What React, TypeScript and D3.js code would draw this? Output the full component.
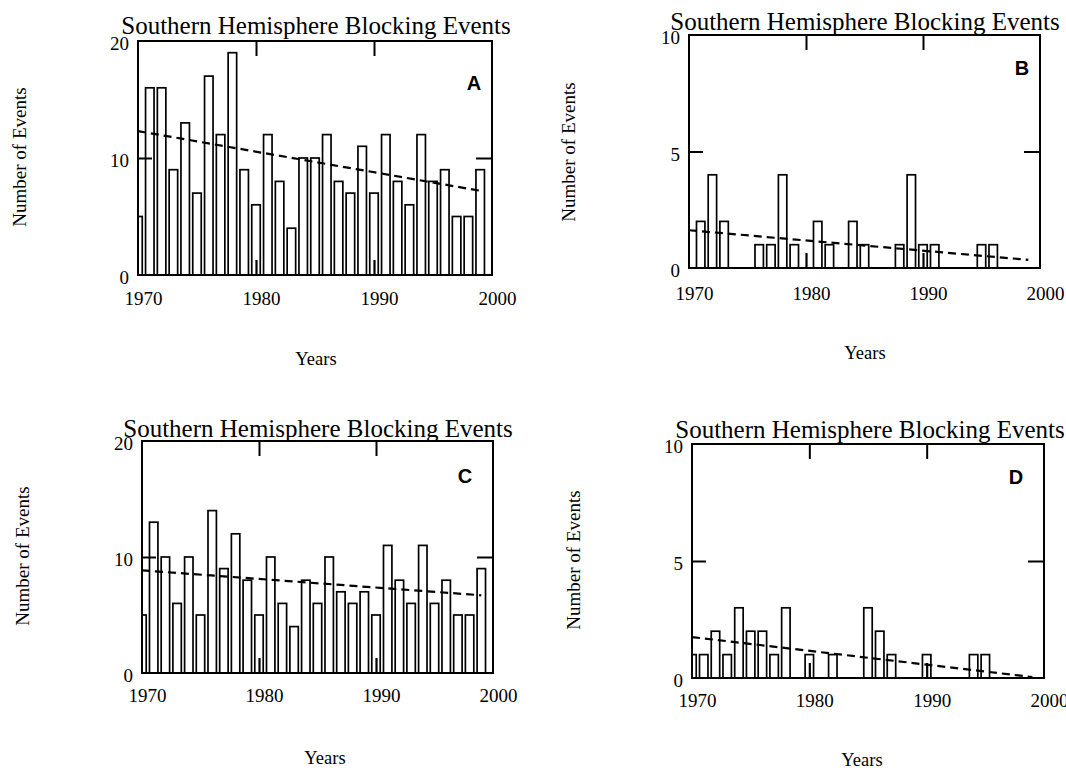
import React, { useEffect, useRef } from 'react';
import * as d3 from 'd3';

// one bar per year, 1970 to 1999
const years = [
  1970, 1971, 1972, 1973, 1974, 1975, 1976, 1977, 1978, 1979,
  1980, 1981, 1982, 1983, 1984, 1985, 1986, 1987, 1988, 1989,
  1990, 1991, 1992, 1993, 1994, 1995, 1996, 1997, 1998, 1999,
];

const countsA = [5, 16, 16, 9, 13, 7, 17, 12, 19, 9, 6, 12, 8, 4, 10, 10, 12, 8, 7, 11, 7, 12, 8, 6, 12, 8, 9, 5, 5, 9];
const countsB = [0, 2, 4, 2, 0, 0, 1, 1, 4, 1, 0, 2, 1, 0, 2, 1, 0, 0, 1, 4, 1, 1, 0, 0, 0, 1, 1, 0, 0, 0];
const countsC = [5, 13, 10, 6, 10, 5, 14, 9, 12, 8, 5, 10, 6, 4, 8, 6, 10, 7, 6, 7, 5, 11, 8, 6, 11, 6, 8, 5, 5, 9];
const countsD = [1, 1, 2, 1, 3, 2, 2, 1, 3, 0, 1, 0, 1, 0, 0, 3, 2, 1, 0, 0, 1, 0, 0, 0, 1, 1, 0, 0, 0, 0];

// linear trend, value at the first and the last year
const trendYears = [1970, 1999];
const trendA = [12.3, 7.2];
const trendB = [1.62, 0.35];
const trendC = [8.85, 6.7];
const trendD = [1.75, 0.04];

const yTicks20 = [0, 10, 20];
const yTicks10 = [0, 5, 10];
const xTicks = [1970, 1980, 1990, 2000];
const innerXTicks = [1980, 1990];

const titleText = 'Southern Hemisphere Blocking Events';
const yAxisText = 'Number of Events';
const xAxisText = 'Years';

const SERIF = '"Liberation Serif", "Times New Roman", Times, serif';
const SANS = '"Liberation Sans", Arial, Helvetica, sans-serif';

const panels = [
  {
    letter: 'A', counts: countsA, trend: trendA, yTicks: yTicks20,
    left: 138, right: 492, top: 41, bottom: 275,
    titleX: 316, titleY: 34, letterX: 474, letterY: 90,
    yLabelX: 19, yLabelY: 157, xTitleX: 316, xTitleY: 365, yearY: 305,
  },
  {
    letter: 'B', counts: countsB, trend: trendB, yTicks: yTicks10,
    left: 689, right: 1040, top: 35, bottom: 268,
    titleX: 865, titleY: 30, letterX: 1022, letterY: 75,
    yLabelX: 568, yLabelY: 152, xTitleX: 865, xTitleY: 359, yearY: 300,
  },
  {
    letter: 'C', counts: countsC, trend: trendC, yTicks: yTicks20,
    left: 142, right: 493, top: 441, bottom: 673,
    titleX: 318, titleY: 437, letterX: 465, letterY: 483,
    yLabelX: 22, yLabelY: 556, xTitleX: 325, xTitleY: 764, yearY: 702,
  },
  {
    letter: 'D', counts: countsD, trend: trendD, yTicks: yTicks10,
    left: 692, right: 1044, top: 444, bottom: 678,
    titleX: 870, titleY: 438, letterX: 1016, letterY: 484,
    yLabelX: 573, yLabelY: 560, xTitleX: 862, xTitleY: 766, yearY: 707,
  },
];

const App = () => {
  const ref = useRef<SVGSVGElement>(null);

  useEffect(() => {
    draw();
  });

  const draw = () => {
    const svg = d3.select(ref.current);
    svg.selectAll('*').remove();

    panels.forEach((p) => {
      const g = svg.append('g');
      const yMax = p.yTicks[p.yTicks.length - 1];

      const x = d3.scaleLinear().domain([1970, 2000]).range([p.left, p.right]);
      const y = d3.scaleLinear().domain([0, yMax]).range([p.bottom, p.top]);
      const bw = (x(1971) - x(1970)) * 0.72;

      // clip so the 1970 bar is cut at the frame
      const clipId = `clip-${p.letter}`;
      g.append('clipPath')
        .attr('id', clipId)
        .append('rect')
        .attr('x', p.left)
        .attr('y', p.top)
        .attr('width', p.right - p.left)
        .attr('height', p.bottom - p.top);

      const data = years.map((yr, i) => ({ yr, v: p.counts[i] })).filter((d) => d.v > 0);

      g.append('g')
        .attr('clip-path', `url(#${clipId})`)
        .selectAll('rect')
        .data(data)
        .join('rect')
        .attr('x', (d) => x(d.yr) - bw / 2)
        .attr('y', (d) => y(d.v))
        .attr('width', bw)
        .attr('height', (d) => p.bottom - y(d.v))
        .attr('fill', 'none')
        .attr('stroke', '#000')
        .attr('stroke-width', 1.7);

      // dashed trend line
      const line = d3
        .line<number>()
        .x((d, i) => x(trendYears[i]))
        .y((d) => y(d));
      g.append('path')
        .attr('d', line(p.trend))
        .attr('fill', 'none')
        .attr('stroke', '#000')
        .attr('stroke-width', 2.2)
        .attr('stroke-dasharray', '8,5');

      // frame
      g.append('rect')
        .attr('x', p.left)
        .attr('y', p.top)
        .attr('width', p.right - p.left)
        .attr('height', p.bottom - p.top)
        .attr('fill', 'none')
        .attr('stroke', '#000')
        .attr('stroke-width', 2);

      // left axis: labels and inward ticks
      const midY = p.yTicks.filter((t) => t > 0 && t < yMax);
      const left = g
        .append('g')
        .attr('transform', `translate(${p.left},0)`)
        .call(d3.axisLeft(y).tickValues(p.yTicks).tickSize(0).tickPadding(9));
      left.select('.domain').remove();
      left.selectAll('text')
        .attr('font-family', SERIF)
        .attr('font-size', 19)
        .attr('fill', '#000')
        .attr('dy', '0.45em');

      g.append('g')
        .attr('transform', `translate(${p.left},0)`)
        .call(d3.axisLeft(y).tickValues(midY).tickSize(-14).tickFormat(() => ''))
        .call((a) => a.select('.domain').remove())
        .selectAll('line')
        .attr('stroke-width', 2);

      g.append('g')
        .attr('transform', `translate(${p.right},0)`)
        .call(d3.axisRight(y).tickValues(midY).tickSize(-16).tickFormat(() => ''))
        .call((a) => a.select('.domain').remove())
        .selectAll('line')
        .attr('stroke-width', 2);

      // bottom axis: year labels and inward ticks
      const bottom = g
        .append('g')
        .attr('transform', `translate(0,${p.bottom})`)
        .call(d3.axisBottom(x).tickValues(xTicks).tickSize(0).tickFormat(d3.format('d')));
      bottom.select('.domain').remove();
      bottom.selectAll('text')
        .attr('font-family', SERIF)
        .attr('font-size', 19)
        .attr('fill', '#000')
        .attr('dy', null)
        .attr('y', p.yearY - p.bottom)
        .attr('dx', 5);

      g.append('g')
        .attr('transform', `translate(0,${p.bottom})`)
        .call(d3.axisBottom(x).tickValues(innerXTicks).tickSize(-15).tickFormat(() => ''))
        .call((a) => a.select('.domain').remove())
        .selectAll('line')
        .attr('stroke-width', 2.2);

      g.append('g')
        .attr('transform', `translate(0,${p.top})`)
        .call(d3.axisTop(x).tickValues(innerXTicks).tickSize(-15).tickFormat(() => ''))
        .call((a) => a.select('.domain').remove())
        .selectAll('line')
        .attr('stroke-width', 2);

      // texts
      g.append('text')
        .attr('x', p.titleX)
        .attr('y', p.titleY)
        .attr('text-anchor', 'middle')
        .attr('font-family', SERIF)
        .attr('font-size', 25)
        .text(titleText);

      g.append('text')
        .attr('x', p.letterX)
        .attr('y', p.letterY)
        .attr('text-anchor', 'middle')
        .attr('font-family', SANS)
        .attr('font-weight', 'bold')
        .attr('font-size', 20)
        .text(p.letter);

      g.append('text')
        .attr('transform', `translate(${p.yLabelX},${p.yLabelY}) rotate(-90)`)
        .attr('text-anchor', 'middle')
        .attr('dy', '0.35em')
        .attr('font-family', SERIF)
        .attr('font-size', 19)
        .text(yAxisText);

      g.append('text')
        .attr('x', p.xTitleX)
        .attr('y', p.xTitleY)
        .attr('text-anchor', 'middle')
        .attr('font-family', SERIF)
        .attr('font-size', 18.5)
        .text(xAxisText);
    });
  };

  return (
    <svg
      ref={ref}
      width={1066}
      height={770}
      style={{ position: 'absolute', left: 0, top: 0, background: '#fff' }}
    />
  );
};

export default App;
